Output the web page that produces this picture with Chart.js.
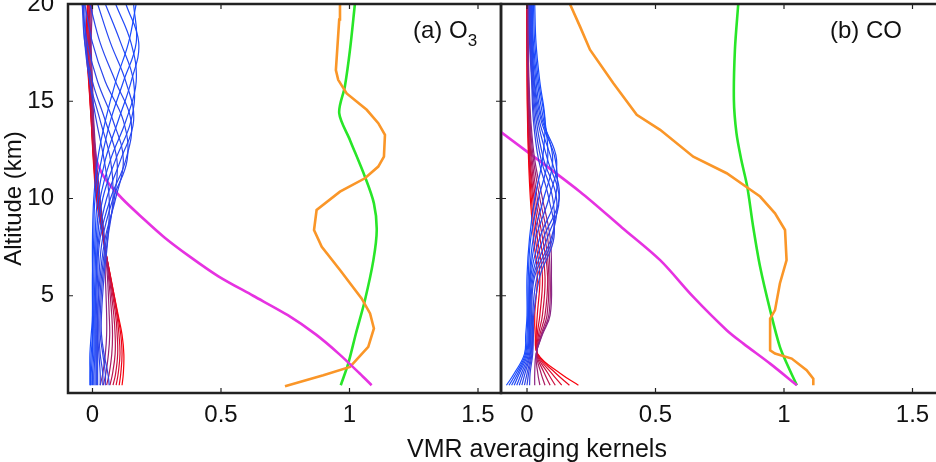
<!DOCTYPE html>
<html>
<head>
<meta charset="utf-8">
<script src="https://cdn.jsdelivr.net/npm/chart.js@4.4.0/dist/chart.umd.min.js"></script>
<style>
  html, body { margin: 0; padding: 0; background: #fff; overflow: hidden; }
  #wrap { position: relative; width: 936px; height: 462px; overflow: hidden;
          font-family: "Liberation Sans", Arial, Helvetica, sans-serif; color: #111; }
  canvas { position: absolute; top: 0; }
  #c1 { left: 0; }
  #c2 { left: 480px; }
  .lbl { position: absolute; font-size: 24px; line-height: 28px; white-space: nowrap; }
  .lbl sub { font-size: 17px; vertical-align: -8px; line-height: 0; }
</style>
</head>
<body>
<div id="wrap">
  <canvas id="c1" width="503" height="462"></canvas>
  <canvas id="c2" width="462" height="462"></canvas>
  <div class="lbl" style="left:413px; top:16px;">(a) O<sub>3</sub></div>
  <div class="lbl" style="left:830px; top:16px;">(b) CO</div>
  <div class="lbl" style="left:537px; top:434px; font-size:25px; transform:translateX(-50%);">VMR averaging kernels</div>
</div>
<script>
// altitude grid (km) of the averaging kernel rows
var altLevels = [0.4, 1, 2, 3, 4, 6, 8, 10, 12, 14, 16, 18, 20];
var xTicks = [0, 0.5, 1, 1.5];
var yTicks = [5, 10, 15, 20];

// O3 kernels: 12 upper (blue) then 8 lower (red)
var o3Kernels = [
    [-0.01, -0.01, -0.01, -0.005, 0, 0, 0, 0.005, 0.02, 0.05, 0.09, 0.14, 0.17],
    [-0.008, -0.008, -0.005, 0, 0, 0, 0.005, 0.01, 0.035, 0.07, 0.12, 0.17, 0.16],
    [-0.005, -0.005, 0, 0, 0.005, 0.005, 0.01, 0.02, 0.05, 0.10, 0.15, 0.18, 0.13],
    [0, 0, 0.005, 0.005, 0.005, 0.01, 0.015, 0.03, 0.07, 0.13, 0.17, 0.15, 0.09],
    [0.005, 0.005, 0.01, 0.01, 0.01, 0.015, 0.02, 0.04, 0.09, 0.15, 0.16, 0.11, 0.05],
    [0.01, 0.01, 0.01, 0.01, 0.01, 0.015, 0.025, 0.055, 0.11, 0.16, 0.13, 0.07, 0.02],
    [0.015, 0.015, 0.015, 0.015, 0.015, 0.02, 0.03, 0.07, 0.13, 0.15, 0.09, 0.03, -0.01],
    [0.02, 0.02, 0.02, 0.02, 0.02, 0.025, 0.04, 0.08, 0.135, 0.12, 0.05, 0, -0.03],
    [0.03, 0.03, 0.025, 0.02, 0.02, 0.03, 0.05, 0.09, 0.12, 0.08, 0.02, -0.02, -0.04],
    [0.04, 0.04, 0.03, 0.025, 0.025, 0.035, 0.055, 0.085, 0.095, 0.05, 0, -0.03, -0.04],
    [0.05, 0.05, 0.04, 0.03, 0.03, 0.04, 0.06, 0.08, 0.07, 0.03, -0.01, -0.03, -0.035],
    [0.065, 0.06, 0.045, 0.035, 0.035, 0.045, 0.06, 0.065, 0.045, 0.015, -0.01, -0.025, -0.03],
    [0.03, 0.04, 0.05, 0.055, 0.055, 0.05, 0.045, 0.03, 0.015, 0.005, 0, -0.005, 0],
    [0.042, 0.052, 0.062, 0.067, 0.065, 0.058, 0.045, 0.027, 0.012, 0.003, -0.003, -0.008, -0.004],
    [0.055, 0.065, 0.075, 0.078, 0.075, 0.062, 0.045, 0.024, 0.01, 0, -0.006, -0.012, -0.008],
    [0.068, 0.078, 0.088, 0.088, 0.083, 0.065, 0.044, 0.022, 0.008, 0, -0.009, -0.015, -0.01],
    [0.08, 0.09, 0.098, 0.096, 0.09, 0.067, 0.043, 0.02, 0.006, -0.003, -0.011, -0.018, -0.013],
    [0.092, 0.1, 0.107, 0.103, 0.095, 0.069, 0.042, 0.019, 0.005, -0.004, -0.013, -0.021, -0.016],
    [0.104, 0.11, 0.115, 0.11, 0.098, 0.07, 0.041, 0.017, 0.004, -0.005, -0.014, -0.023, -0.018],
    [0.115, 0.12, 0.122, 0.115, 0.1, 0.07, 0.04, 0.015, 0.003, -0.005, -0.015, -0.025, -0.02]
];

// CO kernels: 10 upper (blue) then 8 lower (red)
var coKernels = [
    [-0.08, -0.05, -0.01, -0.005, 0, 0, 0.01, 0.03, 0.06, 0.07, 0.05, 0.035, 0.03],
    [-0.07, -0.043, -0.006, 0, 0.003, 0.005, 0.015, 0.045, 0.08, 0.07, 0.045, 0.03, 0.025],
    [-0.06, -0.036, -0.002, 0.004, 0.006, 0.01, 0.025, 0.065, 0.1, 0.065, 0.04, 0.025, 0.02],
    [-0.05, -0.03, 0.002, 0.007, 0.008, 0.012, 0.035, 0.085, 0.115, 0.06, 0.035, 0.022, 0.02],
    [-0.04, -0.022, 0.006, 0.01, 0.01, 0.015, 0.05, 0.11, 0.11, 0.055, 0.03, 0.02, 0.018],
    [-0.03, -0.015, 0.01, 0.013, 0.012, 0.02, 0.065, 0.125, 0.095, 0.048, 0.028, 0.018, 0.016],
    [-0.02, -0.008, 0.013, 0.016, 0.015, 0.025, 0.08, 0.125, 0.08, 0.042, 0.025, 0.016, 0.014],
    [-0.01, 0, 0.016, 0.019, 0.018, 0.03, 0.095, 0.115, 0.065, 0.036, 0.022, 0.014, 0.012],
    [0, 0.006, 0.019, 0.022, 0.022, 0.04, 0.1, 0.1, 0.055, 0.03, 0.02, 0.012, 0.01],
    [0.01, 0.012, 0.022, 0.025, 0.026, 0.05, 0.105, 0.085, 0.045, 0.025, 0.018, 0.01, 0.008],
    [0.03, 0.03, 0.035, 0.06, 0.09, 0.095, 0.09, 0.06, 0.03, 0.015, 0.008, 0.005, 0.005],
    [0.05, 0.042, 0.036, 0.058, 0.085, 0.09, 0.08, 0.05, 0.025, 0.012, 0.006, 0.004, 0.004],
    [0.07, 0.055, 0.037, 0.055, 0.078, 0.085, 0.07, 0.04, 0.02, 0.01, 0.005, 0.003, 0.003],
    [0.09, 0.068, 0.038, 0.05, 0.07, 0.08, 0.06, 0.033, 0.016, 0.008, 0.004, 0.002, 0.002],
    [0.11, 0.082, 0.039, 0.045, 0.06, 0.07, 0.05, 0.027, 0.012, 0.006, 0.003, 0.001, 0.001],
    [0.135, 0.097, 0.04, 0.04, 0.05, 0.06, 0.04, 0.022, 0.01, 0.004, 0.002, 0, 0],
    [0.165, 0.113, 0.041, 0.036, 0.04, 0.05, 0.032, 0.017, 0.008, 0.003, 0.001, 0, 0],
    [0.2, 0.13, 0.042, 0.032, 0.03, 0.04, 0.025, 0.013, 0.006, 0.002, 0, 0, 0]
];

// O3 profiles
var o3OrangeAlt = [0.35, 0.91, 1.34, 2.37, 3.32, 4.09, 4.86, 6.32, 7.52, 8.38, 9.41, 10.35, 11.04, 11.64, 12.15, 13.27, 13.87, 14.56, 15.4, 16.1, 16.6, 19.2, 20];
var o3OrangeVal = [0.749, 0.898, 1.002, 1.073, 1.095, 1.08, 1.047, 0.963, 0.892, 0.862, 0.872, 0.963, 1.06, 1.112, 1.134, 1.138, 1.112, 1.067, 0.989, 0.956, 0.947, 0.96, 0.963];
var o3GreenAlt = [0.4, 1.51, 3.06, 4.77, 6.83, 8.38, 9.75, 11.12, 13.0, 14.39, 15.76, 17.65, 20];
var o3GreenVal = [0.966, 0.995, 1.025, 1.06, 1.093, 1.106, 1.095, 1.06, 1.002, 0.96, 0.982, 1.002, 1.021];
var o3MagentaAlt = [0.4, 1, 2, 3, 4, 5, 6, 7, 8, 9, 10, 11, 12, 13.5];
var o3MagentaVal = [1.086, 1.04, 0.96, 0.87, 0.76, 0.625, 0.49, 0.38, 0.28, 0.195, 0.115, 0.05, 0.015, 0.0];

// CO profiles
var coOrangeAlt = [0.4, 0.74, 1.17, 1.77, 2.03, 2.2, 3.83, 4.26, 5.63, 6.83, 8.38, 9.24, 10.1, 10.53, 11.3, 12.15, 13.53, 14.3, 15.93, 17.65, 18.85, 20];
var coOrangeVal = [1.114, 1.114, 1.088, 1.03, 0.965, 0.946, 0.946, 0.965, 0.984, 1.01, 1.004, 0.965, 0.907, 0.861, 0.777, 0.647, 0.518, 0.427, 0.336, 0.245, 0.206, 0.167];
var coGreenAlt = [0.4, 1.34, 2.37, 4.26, 6.49, 8.55, 10.61, 11.98, 13.36, 15.07, 17.65, 20];
var coGreenVal = [1.05, 1.017, 0.984, 0.946, 0.907, 0.88, 0.857, 0.834, 0.815, 0.805, 0.809, 0.822];
var coMagentaAlt = [0.4, 1.51, 2.54, 3.23, 4.94, 6.83, 8.5, 10.35, 13.4];
var coMagentaVal = [1.05, 0.946, 0.842, 0.777, 0.647, 0.518, 0.37, 0.206, -0.1];

var ORANGE = 'rgb(250,150,40)';
var GREEN = 'rgb(40,230,40)';
var MAGENTA = 'rgb(230,50,225)';
var FONT = '"Liberation Sans", Arial, Helvetica, sans-serif';

// upper kernels stay blue, lower ones go from purple to red
function kernelColor(i, nBlue, n) {
    var t = i < nBlue ? 0.12 * i / (nBlue - 1) : 0.5 + 0.5 * (i - nBlue) / (n - nBlue - 1);
    var r = Math.round(25 + t * 225);
    var g = Math.round(75 - t * 75);
    var b = Math.round(255 - t * 245);
    return 'rgb(' + r + ',' + g + ',' + b + ')';
}

function kernelSets(kernels, nBlue) {
    return kernels.map(function (k, i) {
        return {
            data: k.map(function (v, j) { return {x: v, y: altLevels[j]}; }),
            borderColor: kernelColor(i, nBlue, kernels.length),
            borderWidth: 1.2,
            tension: 0.4,
            showLine: true,
            pointRadius: 0
        };
    });
}

function profile(alts, vals, color, tension) {
    return {
        data: vals.map(function (v, j) { return {x: v, y: alts[j]}; }),
        borderColor: color,
        borderWidth: 2.6,
        tension: tension,
        showLine: true,
        pointRadius: 0
    };
}

// box + inward ticks, the way the original figure has them
var frame = {
    id: 'frame',
    afterDatasetsDraw: function (chart) {
        var ctx = chart.ctx, a = chart.chartArea;
        var xs = chart.scales.x, ys = chart.scales.y;
        ctx.save();
        ctx.strokeStyle = '#222';
        ctx.lineWidth = 1.2;
        ctx.beginPath();
        xTicks.forEach(function (v) {
            var px = xs.getPixelForValue(v);
            ctx.moveTo(px, a.bottom); ctx.lineTo(px, a.bottom - 5);
            ctx.moveTo(px, a.top); ctx.lineTo(px, a.top + 5);
        });
        yTicks.forEach(function (v) {
            var py = ys.getPixelForValue(v);
            ctx.moveTo(a.left, py); ctx.lineTo(a.left + 5, py);
            ctx.moveTo(a.right, py); ctx.lineTo(a.right - 5, py);
        });
        ctx.stroke();
        ctx.lineWidth = 2.5;
        ctx.strokeRect(a.left, a.top, a.right - a.left, a.bottom - a.top);
        ctx.restore();
    }
};

function makeChart(id, datasets, xMin, xMax, showY, yWidth) {
    return new Chart(document.getElementById(id), {
        type: 'scatter',
        data: {datasets: datasets},
        options: {
            responsive: false,
            animation: false,
            events: [],
            layout: {padding: {top: 4, right: showY ? 2 : 0, left: 0, bottom: 0}},
            plugins: {legend: {display: false}, tooltip: {enabled: false}},
            scales: {
                x: {
                    type: 'linear',
                    min: xMin,
                    max: xMax,
                    grid: {display: false},
                    border: {display: false},
                    afterBuildTicks: function (s) {
                        s.ticks = xTicks.map(function (v) { return {value: v}; });
                    },
                    afterFit: function (s) {
                        s.height = 69;
                        s.paddingLeft = 0;
                        s.paddingRight = 0;
                    },
                    ticks: {
                        color: '#111',
                        padding: 0,
                        maxRotation: 0,
                        autoSkip: false,
                        font: {family: FONT, size: 24},
                        callback: function (v) { return String(v); }
                    }
                },
                y: {
                    type: 'linear',
                    min: 0,
                    max: 20,
                    grid: {display: false},
                    border: {display: false},
                    afterBuildTicks: function (s) {
                        s.ticks = yTicks.map(function (v) { return {value: v}; });
                    },
                    afterFit: function (s) {
                        s.width = yWidth;
                        s.paddingTop = 0;
                        s.paddingBottom = 0;
                    },
                    title: {
                        display: showY,
                        text: 'Altitude (km)',
                        color: '#111',
                        padding: {top: 0, bottom: 0},
                        font: {family: FONT, size: 24}
                    },
                    ticks: {
                        display: showY,
                        color: '#111',
                        padding: 6,
                        font: {family: FONT, size: 24},
                        callback: function (v) { return String(v); }
                    }
                }
            }
        },
        plugins: [frame]
    });
}

var o3Sets = kernelSets(o3Kernels, 12).concat([
    profile(o3MagentaAlt, o3MagentaVal, MAGENTA, 0.3),
    profile(o3OrangeAlt, o3OrangeVal, ORANGE, 0),
    profile(o3GreenAlt, o3GreenVal, GREEN, 0.3)
]);
var coSets = kernelSets(coKernels, 10).concat([
    profile(coMagentaAlt, coMagentaVal, MAGENTA, 0.3),
    profile(coOrangeAlt, coOrangeVal, ORANGE, 0),
    profile(coGreenAlt, coGreenVal, GREEN, 0.3)
]);

// left panel: plot area 68..501 px, 0 at 92.5 px, 257 px per unit
makeChart('c1', o3Sets, -0.0953, 1.5895, true, 68);
// right panel: plot area from 501 px, 0 at 527 px
makeChart('c2', coSets, -0.1012, 1.6148, false, 21);
</script>
</body>
</html>
